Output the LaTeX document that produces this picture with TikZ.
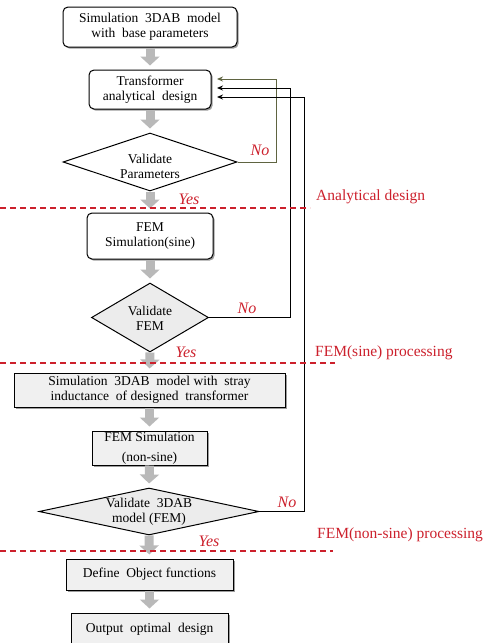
\documentclass[tikz,border=0pt]{standalone}
\usepackage{fontspec}
\setmainfont{Liberation Serif}
\usetikzlibrary{shapes.geometric,arrows.meta,shadows,calc}
\definecolor{redlab}{RGB}{204,32,44}
\definecolor{olivearrow}{RGB}{95,100,65}
\begin{document}
\begin{tikzpicture}[x=1pt,y=-1pt,
  boxbase/.style={draw=black, line width=1pt, fill=white, align=center,
    font=\fontsize{13.5}{15}\selectfont, inner sep=0pt,
    drop shadow={shadow xshift=1.6pt,shadow yshift=-1.6pt,fill=black!70,opacity=0.55}},
  rbox/.style={boxbase, rounded corners=5pt},
  gbox/.style={boxbase, fill=gray!12},
  dia/.style={diamond, draw=black, line width=1pt, inner sep=0pt},
  txt/.style={align=center, font=\fontsize{13.5}{15}\selectfont, inner sep=0pt},
  garrow/.style={draw=gray!55, line width=9pt, shorten >=4pt, -{Triangle[width=19pt,length=9pt]}},
  loopline/.style={line width=1pt, -{Stealth[length=6pt,width=5pt]}},
  seclab/.style={text=redlab, font=\fontsize{15.5}{17}\selectfont, inner sep=0pt, anchor=west},
  yn/.style={text=redlab, font=\fontsize{16}{18}\selectfont\itshape, inner sep=0pt},
  sep/.style={draw=redlab, line width=1.1pt, dash pattern=on 6pt off 4pt}
]
\useasboundingbox (0,0) rectangle (484,643);
\clip (0,0) rectangle (484,643);

% nodes
\node[rbox, minimum width=174pt, minimum height=40pt] (b1) at (150,27) {Simulation\ \ 3DAB\ \ model\\with\ \ base parameters};
\node[rbox, minimum width=122pt, minimum height=39pt] (b2) at (150,89.5) {Transformer\\analytical\ \ design};
\node[dia, fill=white, minimum width=174pt, minimum height=58pt] (d1) at (150,162) {};
\node[txt] (d1t) at (150,166) {Validate\\Parameters};
\node[rbox, minimum width=126pt, minimum height=46pt] (b3) at (150,236) {FEM\\Simulation(sine)};
\node[dia, fill=gray!15, minimum width=117pt, minimum height=69pt] (d2) at (150,317.5) {};
\node[txt] (d2t) at (150,318) {Validate\\FEM};
\node[gbox, minimum width=271pt, minimum height=34pt] (b4) at (149.5,390) {Simulation\ \ 3DAB\ \ model with\ \ stray\\inductance\ \ of designed\ \ transformer};
\node[gbox, minimum width=115pt, minimum height=34pt] (b5) at (149.5,448) {FEM Simulation\\[5pt](non-sine)};
\node[dia, fill=gray!15, minimum width=220pt, minimum height=47pt] (d3) at (149,511.5) {};
\node[txt] (d3t) at (149,512) {Validate\ \ 3DAB\\model (FEM)};
\node[gbox, minimum width=167pt, minimum height=31pt] (b6) at (149.5,574.5) {Define\ \ Object functions};
\node[gbox, minimum width=157pt, minimum height=32pt] (b7) at (149.5,629) {Output\ \ optimal\ \ design};

% grey flow arrows
\draw[garrow] (b1.south) -- (b2.north);
\draw[garrow] (b2.south) -- (d1.north);
\draw[garrow] (d1.south) -- (b3.north);
\draw[garrow] (b3.south) -- (d2.north);
\draw[garrow] (d2.south) -- (b4.north);
\draw[garrow] (b4.south) -- (b5.north);
\draw[garrow] (b5.south) -- (d3.north);
\draw[garrow] (d3.south) -- (b6.north);
\draw[garrow] (b6.south) -- (b7.north);

% feedback loops
\coordinate (t1) at (217,79);
\coordinate (t2) at (217,88);
\coordinate (t3) at (217,97);
\coordinate (k1) at (276,79);
\coordinate (k2) at (290,88);
\coordinate (k3) at (304,97);
\draw[loopline, draw=olivearrow] (d1.east) -| (k1) -- (t1);
\draw[loopline] (d2.east) -| (k2) -- (t2);
\draw[loopline] (d3.east) -| (k3) -- (t3);

% section separators
\coordinate (s1a) at (0,208);   \coordinate (s1b) at (310,208);
\coordinate (s2a) at (0,363);   \coordinate (s2b) at (335,363);
\coordinate (s3a) at (0,551);   \coordinate (s3b) at (333,551);
\draw[sep] (s1a) -- (s1b);
\draw[sep] (s2a) -- (s2b);
\draw[sep] (s3a) -- (s3b);

% labels
\node[yn] (no1) at (260,150) {No};
\node[yn] (no2) at (247,308) {No};
\node[yn] (no3) at (287,502) {No};
\node[yn] (yes1) at (189,199) {Yes};
\node[yn] (yes2) at (186,352) {Yes};
\node[yn] (yes3) at (209,541) {Yes};
\node[seclab] (l1) at (316,197) {Analytical design};
\node[seclab] (l2) at (315,353) {FEM(sine) processing};
\node[seclab] (l3) at (317,535) {FEM(non-sine) processing};
\end{tikzpicture}
\end{document}
